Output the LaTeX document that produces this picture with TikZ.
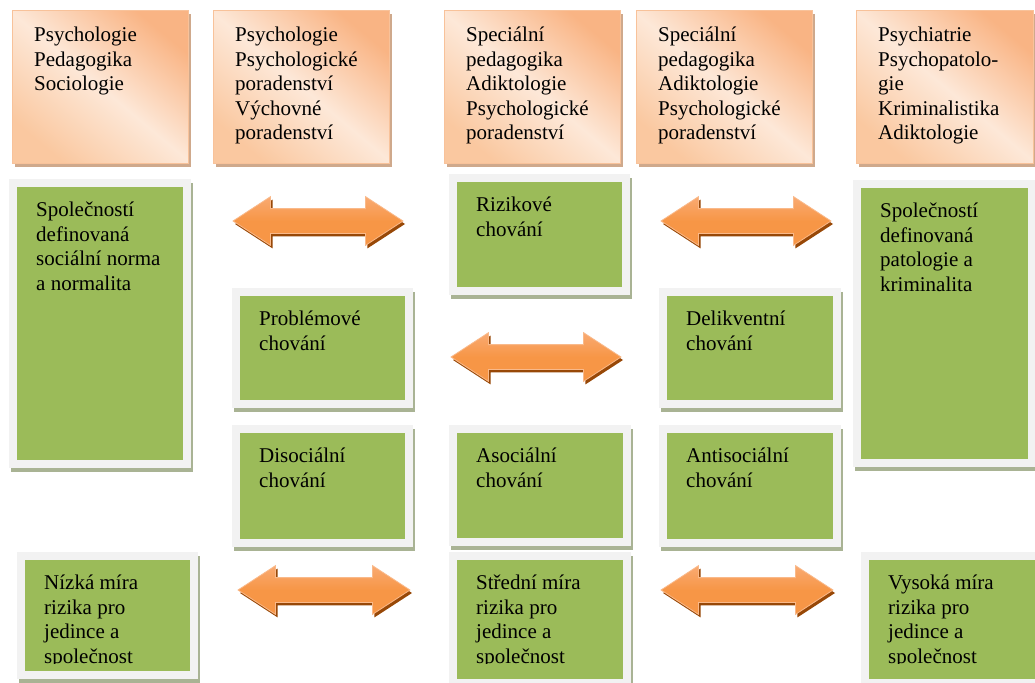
\documentclass[tikz,border=0pt]{standalone}
\usepackage{fontspec}
\setmainfont{Liberation Serif}
\usetikzlibrary{positioning,
  shapes.arrows,
  shadows
}

\definecolor{zelena}{HTML}{9BBB59}
\definecolor{ramecseda}{HTML}{F2F2F2}
\definecolor{zelstin}{HTML}{A9B394}
\definecolor{oranztmava}{HTML}{F9B484}
\definecolor{oranzstred}{HTML}{FDE8D8}
\definecolor{oranzdole}{HTML}{FAC8A0}
\definecolor{oranzokraj}{HTML}{F8C29A}
\definecolor{oranzstin}{HTML}{CFA98C}
\definecolor{sipkabarva}{HTML}{F79646}
\definecolor{sipkasvetla}{HTML}{F9AA72}
\definecolor{sipkaokraj}{HTML}{F9B98A}
\definecolor{sipkastin}{HTML}{984807}

\begin{document}
\begin{tikzpicture}[x=1pt, y=-1pt,
  obor/.style={anchor=north west, inner sep=0pt, minimum width=176pt, minimum height=153pt,
    draw=oranzokraj, line width=0.8pt,
    top color=oranztmava, bottom color=oranzdole, middle color=oranzstred, shading angle=-40,
    general shadow={fill=oranzstin, shadow xshift=3pt, shadow yshift=-4pt}},
  ramec/.style={anchor=north west, inner sep=0pt, fill=ramecseda,
    general shadow={fill=zelstin, shadow xshift=2pt, shadow yshift=-4pt},
    path picture={\fill[zelena] ([shift={(8pt,-8pt)}]path picture bounding box.north west)
      rectangle ([shift={(-8pt,8pt)}]path picture bounding box.south east);}},
  txt/.style={inner sep=0pt, align=left, font=\fontsize{21}{24.5}\selectfont,
    execute at begin node=\strut},
  sipka/.style={double arrow, inner sep=0pt, minimum width=1pt, minimum height=170pt,
    text height=12pt, text depth=12pt,
    double arrow tip angle=66, double arrow head extend=12pt,
    draw=sipkaokraj, line width=0.8pt,
    top color=sipkasvetla, bottom color=sipkabarva, middle color=sipkabarva,
    general shadow={fill=sipkastin, shadow xshift=2pt, shadow yshift=-3pt}}]

  \path[use as bounding box, fill=white] (0,0) rectangle (1035,682);

  % obory
  \node[obor] (ob1) at ( 12,10) {};
  \node[obor] (ob2) at (213,10) {};
  \node[obor] (ob3) at (444,10) {};
  \node[obor] (ob4) at (636,10) {};
  \node[obor, minimum width=177pt] (ob5) at (856,10) {};

  \node[txt, below right=17pt and 22pt of ob1.north west] (tob1) {Psychologie\\Pedagogika\\Sociologie};
  \node[txt, below right=17pt and 22pt of ob2.north west] (tob2) {Psychologie\\Psychologické\\poradenství\\Výchovné\\poradenství};
  \node[txt, below right=17pt and 22pt of ob3.north west] (tob3) {Speciální\\pedagogika\\Adiktologie\\Psychologické\\poradenství};
  \node[txt, below right=17pt and 22pt of ob4.north west] (tob4) {Speciální\\pedagogika\\Adiktologie\\Psychologické\\poradenství};
  \node[txt, below right=17pt and 22pt of ob5.north west] (tob5) {Psychiatrie\\Psychopatolo-\\gie\\Kriminalistika\\Adiktologie};

  % chovani
  \node[ramec, minimum width=182pt, minimum height=289pt] (norma)  at (  9,179) {};
  \node[ramec, minimum width=181pt, minimum height=121pt] (rizik)  at (449,174) {};
  \node[ramec, minimum width=183pt, minimum height=287pt] (patol)  at (853,180) {};
  \node[ramec, minimum width=181pt, minimum height=120pt] (probl)  at (232,288) {};
  \node[ramec, minimum width=182pt, minimum height=120pt] (delik)  at (659,288) {};
  \node[ramec, minimum width=181pt, minimum height=122pt] (disoc)  at (232,425) {};
  \node[ramec, minimum width=182pt, minimum height=121pt] (asoc)   at (449,425) {};
  \node[ramec, minimum width=182pt, minimum height=122pt] (antis)  at (659,425) {};
  \node[ramec, minimum width=181pt, minimum height=127pt] (nizka)  at ( 17,552) {};
  \node[ramec, minimum width=182pt, minimum height=135pt] (stred)  at (449,552) {};
  \node[ramec, minimum width=183pt, minimum height=135pt] (vysoka) at (861,552) {};

  \node[txt, below right=23pt and 27pt of norma.north west] (tnorma) {Společností\\definovaná\\sociální norma\\a normalita};
  \node[txt, below right=23pt and 27pt of rizik.north west] (trizik) {Rizikové\\chování};
  \node[txt, below right=23pt and 27pt of patol.north west] (tpatol) {Společností\\definovaná\\patologie a\\kriminalita};
  \node[txt, below right=23pt and 27pt of probl.north west] (tprobl) {Problémové\\chování};
  \node[txt, below right=23pt and 27pt of delik.north west] (tdelik) {Delikventní\\chování};
  \node[txt, below right=23pt and 27pt of disoc.north west] (tdisoc) {Disociální\\chování};
  \node[txt, below right=23pt and 27pt of asoc.north west]  (tasoc)  {Asociální\\chování};
  \node[txt, below right=23pt and 27pt of antis.north west] (tantis) {Antisociální\\chování};

  \begin{scope}
    \clip (0,540) rectangle (1035,663);
    \node[txt, below right=23pt and 27pt of nizka.north west]  (tnizka)  {Nízká míra\\rizika pro\\jedince a\\společnost};
    \node[txt, below right=23pt and 27pt of stred.north west]  (tstred)  {Střední míra\\rizika pro\\jedince a\\společnost};
    \node[txt, below right=23pt and 27pt of vysoka.north west] (tvysoka) {Vysoká míra\\rizika pro\\jedince a\\společnost};
  \end{scope}

  % sipky
  \node[sipka] (s1) at (318,221) {};
  \node[sipka] (s2) at (746,221) {};
  \node[sipka] (s3) at (536,357) {};
  \node[sipka, minimum height=172pt] (s4) at (324,590) {};
  \node[sipka, minimum height=172pt] (s5) at (747,590) {};

\end{tikzpicture}
\end{document}
